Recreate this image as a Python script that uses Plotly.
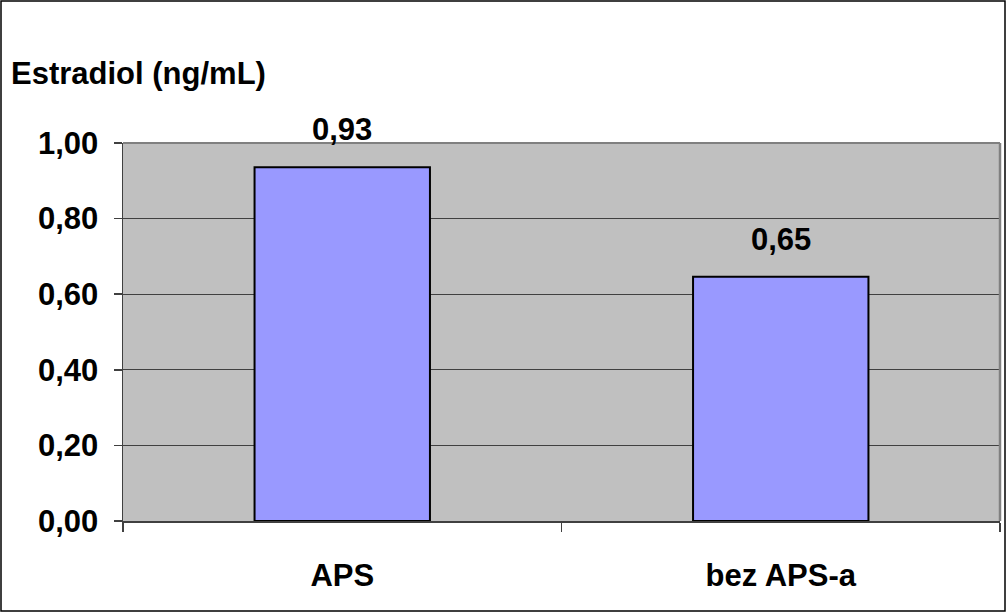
import plotly.graph_objects as go

categories = ["APS", "bez APS-a"]
values = [0.936, 0.646]
value_labels = ["0,93", "0,65"]
y_title = "Estradiol (ng/mL)"

W, H = 1006, 612
L, R, T, B = 123, 6, 143, 91
pw, ph = W - L - R, H - T - B

FONT = "Liberation Sans, Arial, sans-serif"
FS = 31

fig = go.Figure(go.Bar(
    x=categories, y=values, hoverinfo="skip",
    marker=dict(color="#9999ff", line=dict(color="black", width=2)),
))

for c, v, t in zip(categories, values, value_labels):
    fig.add_annotation(x=c, y=v, text=t, showarrow=False, yanchor="bottom", yshift=18,
                       font=dict(family=FONT, size=FS, color="black", weight="bold"))

fig.update_layout(
    width=W, height=H, margin=dict(l=L, r=R, t=T, b=B, pad=0),
    paper_bgcolor="white", plot_bgcolor="#c0c0c0",
    separators=", ", bargap=0.6, showlegend=False,
    font=dict(family=FONT, color="black"),
)
fig.update_xaxes(
    type="category", tickson="boundaries", ticks="outside", ticklen=9,
    tickcolor="#404040", tickwidth=1.5, showline=True, linecolor="#404040", linewidth=1.5,
    tickfont=dict(family=FONT, size=FS, color="black", weight="bold"),
    ticklabelstandoff=26, showgrid=False,
)
fig.update_yaxes(
    range=[0, 1], dtick=0.2, tick0=0, tickformat=".2f",
    ticks="outside", ticklen=8, tickcolor="#404040", tickwidth=1.5,
    showline=True, linecolor="#404040", linewidth=1.5,
    showgrid=True, gridcolor="#404040", gridwidth=1.2, zeroline=False,
    tickfont=dict(family=FONT, size=FS, color="black", weight="bold"),
    ticklabelstandoff=9,
)

# plot area border (top and right in gray)
fig.add_shape(type="line", xref="paper", yref="paper", x0=0, x1=1, y0=1, y1=1,
              line=dict(color="#808080", width=2))
fig.add_shape(type="line", xref="paper", yref="paper", x0=1, x1=1, y0=0, y1=1,
              line=dict(color="#808080", width=2.5))
# outer chart border
fig.add_shape(type="rect", xref="paper", yref="paper",
              x0=(1 - L) / pw, x1=(W - 1 - L) / pw,
              y0=-(B - 1) / ph, y1=1 + (T - 1) / ph,
              line=dict(color="black", width=1.5))

fig.add_annotation(
    text=y_title, xref="paper", yref="paper",
    x=(9 - L) / pw, y=1 + (T - 73) / ph, xanchor="left", yanchor="middle",
    showarrow=False, font=dict(family=FONT, size=FS, color="black", weight="bold"),
)

fig.write_html("out.html", config={"displayModeBar": False, "staticPlot": True},
               post_script="document.body.style.margin='0';")
